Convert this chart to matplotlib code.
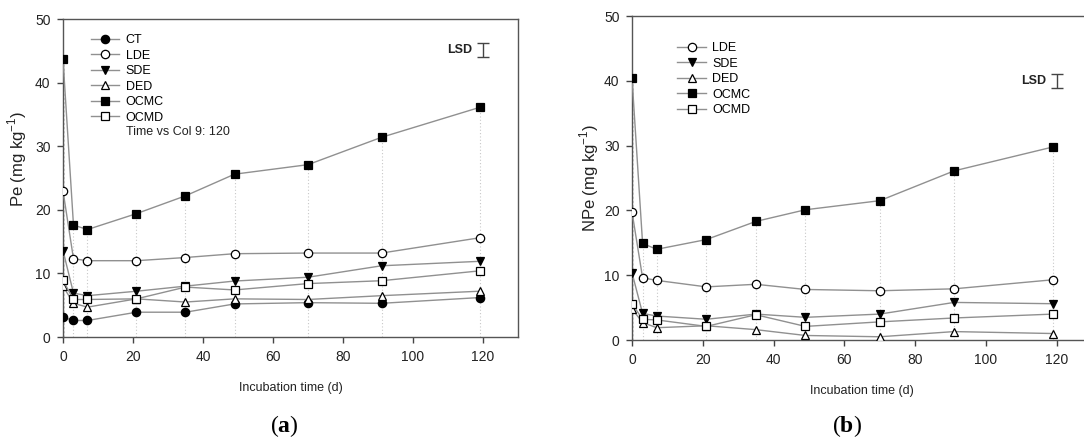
import matplotlib
matplotlib.use('Agg')
import matplotlib.pyplot as plt

plt.rcParams['font.family'] = ['Liberation Sans', 'DejaVu Sans']
plt.rcParams['mathtext.fontset'] = 'custom'
plt.rcParams['mathtext.rm'] = 'Liberation Serif'
plt.rcParams['mathtext.bf'] = 'Liberation Serif:bold'
plt.rcParams['mathtext.sf'] = 'Liberation Sans'

days = [0, 3, 7, 21, 35, 49, 70, 91, 119]

# panel (a): Pe
pe_ct = [3.1, 2.6, 2.6, 3.9, 3.9, 5.2, 5.4, 5.3, 6.2]
pe_lde = [23.0, 12.3, 12.0, 12.0, 12.5, 13.1, 13.2, 13.2, 15.6]
pe_sde = [13.6, 6.9, 6.5, 7.2, 8.0, 8.8, 9.4, 11.2, 11.9]
pe_ded = [8.0, 5.3, 4.7, 6.0, 5.5, 6.0, 5.9, 6.5, 7.2]
pe_ocmc = [43.7, 17.6, 16.9, 19.4, 22.2, 25.6, 27.1, 31.4, 36.1]
pe_ocmd = [8.9, 5.9, 5.9, 6.0, 7.85, 7.4, 8.4, 8.85, 10.4]

# panel (b): NPe
npe_lde = [19.8, 9.6, 9.2, 8.2, 8.6, 7.8, 7.6, 7.9, 9.3]
npe_sde = [10.4, 4.1, 3.7, 3.2, 4.0, 3.5, 4.0, 5.8, 5.6]
npe_ded = [4.8, 2.7, 1.9, 2.2, 1.6, 0.7, 0.5, 1.3, 1.0]
npe_ocmc = [40.5, 14.9, 14.0, 15.5, 18.3, 20.1, 21.5, 26.1, 29.8]
npe_ocmd = [5.6, 3.2, 3.1, 2.1, 3.9, 2.1, 2.8, 3.4, 4.0]

lsd_a = (45.1, 1.1)
lsd_b = (40.0, 1.05)

styles = {
    'CT': dict(marker='o', mfc='black'),
    'LDE': dict(marker='o', mfc='white'),
    'SDE': dict(marker='v', mfc='black'),
    'DED': dict(marker='^', mfc='white'),
    'OCMC': dict(marker='s', mfc='black'),
    'OCMD': dict(marker='s', mfc='white'),
}

fig = plt.figure(figsize=(10.84, 4.41), dpi=100)
ax1 = fig.add_axes([0.0581, 0.2358, 0.4198, 0.7211])
ax2 = fig.add_axes([0.5830, 0.2290, 0.4245, 0.7347])


def draw(ax, series, ylabel, lsd, legend_loc, ylab_pos):
    top = [max(v) for v in zip(*series.values())]
    for i, (d, t) in enumerate(zip(days, top)):
        if i == 0:
            ax.vlines(d, 0, t, colors='#333333', linestyles=(0, (1.5, 1.5)), lw=1.0, zorder=1)
        else:
            ax.vlines(d, 0, t, colors='#c8c8c8', linestyles=(0, (1, 2)), lw=0.8, zorder=1)
    for name, vals in series.items():
        st = styles[name]
        ax.plot(days, vals, color='#909090', lw=1.0, marker=st['marker'],
                mfc=st['mfc'], mec='black', mew=0.9, ms=6, label=name, zorder=3)
    ax.errorbar([120], [lsd[0]], yerr=[lsd[1]], fmt='none', ecolor='#444444',
                elinewidth=1.0, capsize=4, capthick=1.0)
    ax.text(117, lsd[0], 'LSD', ha='right', va='center', fontsize=9,
            fontweight='bold', color='#222222')
    ax.set_xlim(0, 130)
    ax.set_ylim(0, 50)
    ax.set_xticks(range(0, 121, 20))
    ax.set_yticks(range(0, 51, 10))
    ax.tick_params(direction='out', length=4, width=1, colors='#444444',
                   labelcolor='#222222', labelsize=10, top=False, right=False, pad=5)
    for s in ax.spines.values():
        s.set_color('#555555')
        s.set_linewidth(1.0)
    ax.set_xlabel('Incubation time (d)', fontsize=9, color='#222222', labelpad=13)
    ax.set_ylabel(ylabel + r' (mg kg$^{\mathsf{-1}}$)', fontsize=12, color='#222222')
    ax.yaxis.set_label_coords(*ylab_pos)
    leg = ax.legend(loc='upper left', bbox_to_anchor=legend_loc, frameon=False,
                    fontsize=9, handlelength=2.3, handletextpad=0.5,
                    labelspacing=0.28, borderaxespad=0)
    return leg


draw(ax1, {'CT': pe_ct, 'LDE': pe_lde, 'SDE': pe_sde, 'DED': pe_ded,
           'OCMC': pe_ocmc, 'OCMD': pe_ocmd}, 'Pe', lsd_a, (0.05, 0.968), (-0.075, 0.56))
ax1.text(0.138, 0.645, 'Time vs Col 9: 120', transform=ax1.transAxes, fontsize=9,
         color='#222222', va='center')

draw(ax2, {'LDE': npe_lde, 'SDE': npe_sde, 'DED': npe_ded,
           'OCMC': npe_ocmc, 'OCMD': npe_ocmd}, 'NPe', lsd_b, (0.088, 0.935), (-0.068, 0.50))

fig.text(0.262, 0.02, r'($\mathbf{a}$)', fontsize=17, family='Liberation Serif', ha='center')
fig.text(0.781, 0.02, r'($\mathbf{b}$)', fontsize=17, family='Liberation Serif', ha='center')

fig.savefig('out.png', dpi=100)
